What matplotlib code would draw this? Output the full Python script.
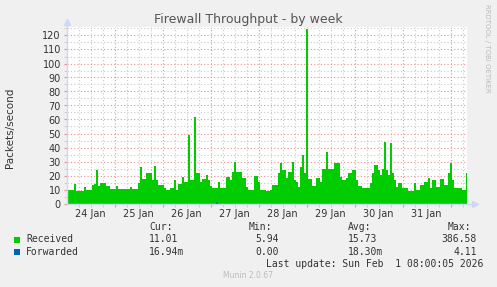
import matplotlib
matplotlib.use('Agg')
import matplotlib.pyplot as plt
import numpy as np
from matplotlib.transforms import blended_transform_factory

# donnees (une valeur par heure depuis le 24 Jan 00:00)
hours = list(range(0, 201))
received = [10, 10, 10, 10, 14, 9, 9, 9, 9, 11.5,
            9.6, 9.6, 9.6, 13, 14, 24, 12.5, 14.5, 14.5, 14.5,
            12.5, 12.5, 10.3, 10.3, 10.3, 12.5, 10.6, 10.6, 10.6, 10.6,
            10.6, 10.6, 11.7, 10.5, 10.3, 10.3, 14.6, 26, 17.4, 17.4,
            22, 22, 22, 17, 27, 17, 13, 13, 13, 11,
            10, 10, 11, 11, 16.8, 9.6, 14, 14, 19, 15.6,
            15.6, 49, 16.8, 16.8, 62, 21.5, 21.5, 15.6, 17.3, 17.3,
            20.4, 16.8, 12.5, 10.8, 10.8, 10.8, 15.6, 10.8, 10.8, 10.8,
            19, 19, 16.8, 22.7, 30, 22.7, 22.7, 22.7, 18, 18,
            12, 10, 10, 10, 19.6, 19.6, 15.6, 10, 10, 10,
            9, 9, 10, 13, 13, 13, 21.6, 28.7, 24, 24,
            18, 22.7, 22.7, 30, 16.8, 15.6, 12, 26, 34.6, 21.6,
            125, 17.3, 17.3, 12.5, 12.5, 18, 18, 15.6, 25, 25,
            37, 25, 25, 25, 29, 29, 29, 19, 16.8, 16.8,
            18, 21.6, 21.6, 24, 24, 16.8, 12.5, 12.5, 10.8, 10.8,
            10.8, 10.8, 14.4, 21.6, 27.5, 27.5, 24, 20.4, 24.4, 44,
            24, 20.4, 43.5, 21.6, 16.8, 12, 14.4, 14.4, 10.8, 10.8,
            10.8, 9, 9, 9, 14.4, 9.6, 9.6, 13, 13, 15.6,
            15.6, 18, 10.8, 16.8, 16.8, 12, 12, 17.3, 17.3, 13,
            13, 21.6, 28.7, 16.8, 10.8, 10.8, 10.8, 10.8, 9.6, 9.6,
            21.6]
forwarded = [0] * 201
forwarded[75] = 1.0

days = ['24 Jan', '25 Jan', '26 Jan', '27 Jan', '28 Jan', '29 Jan', '30 Jan', '31 Jan']
legend_names = ['Received', 'Forwarded']
legend_colors = ['#00CC00', '#0066B3']
cur = ['11.01', '16.94m']
mini = ['5.94', '0.00']
avg = ['15.73', '18.30m']
maxi = ['386.58', '4.11']

W, H = 497, 287
fig = plt.figure(figsize=(W / 100, H / 100), dpi=100, facecolor='#F0F0F0')

# zone de trace en pixels
x0, x1 = 66.5, 466.5
y0, y1 = 203.5, 27.1
ax = fig.add_axes([x0 / W, (H - y0) / H, (x1 - x0) / W, (y0 - y1) / H])
ax.set_facecolor('white')
ax.set_xlim(0, 200)
ax.set_ylim(0, 126)

# grille
for h in range(0, 201, 6):
    if h % 24 == 0:
        continue
    ax.axvline(h, color='#C8C8C8', lw=0.8, linestyle=(0, (1, 2)), zorder=1)
for h in range(24, 200, 24):
    ax.axvline(h, color='#E89090', lw=0.8, linestyle=(0, (1, 2)), zorder=1)
for v in range(5, 126, 10):
    ax.axhline(v, color='#C8C8C8', lw=0.8, linestyle=(0, (1, 2)), zorder=1)
for v in range(10, 126, 10):
    ax.axhline(v, color='#E89090', lw=0.8, linestyle=(0, (1, 2)), zorder=1)

ax.fill_between(hours, 0, received, color=legend_colors[0], lw=0, step='mid', zorder=2)
ax.fill_between(hours, 0, forwarded, color=legend_colors[1], lw=0, step='mid', zorder=3)

for s in ax.spines.values():
    s.set_visible(False)
axis_col = '#CFD6F8'
ax.plot([0, 0], [0, 129], color=axis_col, lw=1, clip_on=False, zorder=4)
ax.plot([0], [129.5], marker='^', color=axis_col, ms=4, clip_on=False, zorder=4)
ax.plot([0, 203], [0, 0], color=axis_col, lw=1, clip_on=False, zorder=4)
ax.plot([204], [0], marker='>', color=axis_col, ms=4, clip_on=False, zorder=4)

ax.set_yticks(range(0, 121, 10))
ax.set_yticks(range(5, 126, 10), minor=True)
ax.set_xticks(range(24, 200, 24))
ax.set_xticks([h for h in range(6, 200, 6) if h % 24], minor=True)
ax.set_xticklabels([])
ax.tick_params(axis='y', which='major', length=2, color='#E89090', labelsize=7, labelcolor='#333333', pad=2)
ax.tick_params(axis='y', which='minor', length=2, color='#C8C8C8')
ax.tick_params(axis='x', which='major', length=2, color='#E89090')
ax.tick_params(axis='x', which='minor', length=2, color='#C8C8C8')

tr = blended_transform_factory(ax.transData, fig.transFigure)
for i, d in enumerate(days):
    ax.text(12 + 24 * i, 1 - 214 / H, d, transform=tr, ha='center', va='center',
            fontsize=7, color='#333333')

fig.text(10 / W, 1 - 128 / H, 'Packets/second', rotation=90, ha='center', va='center',
         fontsize=7.5, color='#333333')
fig.text(248 / W, 1 - 19 / H, 'Firewall Throughput - by week', ha='center', va='center',
         fontsize=9, color='#555555')
fig.text(487 / W, 1 - 4 / H, 'RRDTOOL / TOBI OETIKER', rotation=270, ha='center', va='top',
         fontsize=5, color='#BBBBBB')

# legende
mono = dict(family='DejaVu Sans Mono', fontsize=7, color='#333333', va='center')
def px(x, y):
    return x / W, 1 - y / H

fig.text(*px(149, 227), 'Cur:', **mono)
fig.text(*px(272, 227), 'Min:', ha='right', **mono)
fig.text(*px(348, 227), 'Avg:', **mono)
fig.text(*px(471, 227), 'Max:', ha='right', **mono)
for i, name in enumerate(legend_names):
    y = 239.5 + 12.3 * i
    fig.patches.append(plt.Rectangle(px(14, y + 3), 6 / W, 6 / H, transform=fig.transFigure,
                                     facecolor=legend_colors[i], edgecolor='none'))
    fig.text(*px(26, y), name, **mono)
    fig.text(*px(149, y), cur[i], **mono)
    fig.text(*px(279, y), mini[i], ha='right', **mono)
    fig.text(*px(348, y), avg[i], **mono)
    fig.text(*px(477, y), maxi[i], ha='right', **mono)

fig.text(*px(483, 264), 'Last update: Sun Feb  1 08:00:05 2026', ha='right', **mono)
fig.text(248 / W, 1 - 276 / H, 'Munin 2.0.67', ha='center', va='center', fontsize=5.5,
         color='#BBBBBB')

fig.savefig('out.png', dpi=100, facecolor='#F0F0F0')
